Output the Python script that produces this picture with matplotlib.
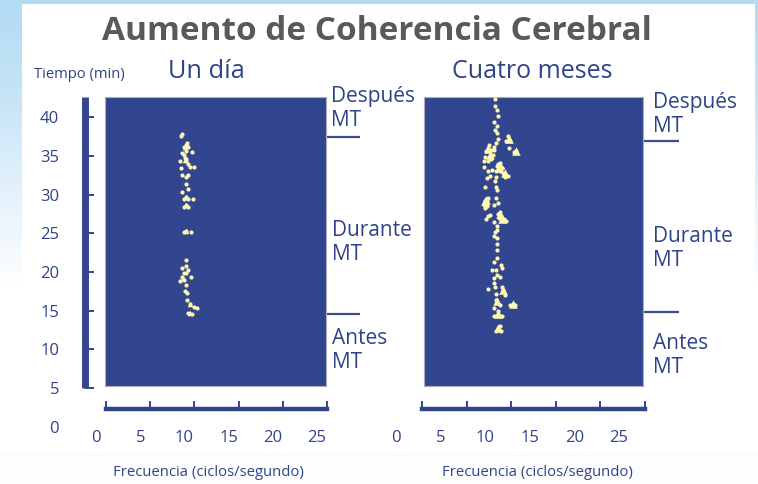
import numpy as np
import matplotlib
matplotlib.use("Agg")
import matplotlib.pyplot as plt
from matplotlib.colors import LinearSegmentedColormap
from matplotlib.patches import Rectangle
from matplotlib.transforms import ScaledTranslation

W, H = 758, 484
plt.rcParams['font.family'] = ['Open Sans', 'DejaVu Sans']

title = "Aumento de Coherencia Cerebral"
panel_titles = ["Un día", "Cuatro meses"]
x_label = "Frecuencia (ciclos/segundo)"
y_label = "Tiempo (min)"
x_ticks = [0, 5, 10, 15, 20, 25]
y_ticks = [0, 5, 10, 15, 20, 25, 30, 35, 40]
y_top = 42.6

left_freq = [8.6, 8.5, 9.1, 9.2, 8.8, 9.3, 8.6, 9.1, 9.7, 8.4, 8.9, 9.1, 9.3, 9.5, 9.9, 8.5, 8.8, 9.0,
             8.6, 9.1, 9.3, 9.1, 9.3, 8.6, 9.1, 8.8, 9.3, 9.8, 9.1, 8.8, 9.3,
             8.8, 9.1, 9.6,
             9.1, 9.1, 8.6, 9.3, 8.8, 9.1, 9.6, 8.6, 8.4, 8.8, 9.1, 8.9, 9.2, 9.2, 9.5, 9.9, 10.3, 9.3, 9.7]
left_time = [37.8, 37.6, 36.4, 36.7, 36.1, 36.1, 35.3, 35.6, 35.5, 34.3, 34.7, 34.3, 34.0, 33.5, 33.5, 33.4, 35.1, 34.6,
             32.5, 32.2, 32.5, 31.3, 30.7, 30.3, 29.7, 29.4, 29.4, 29.4, 28.6, 28.4, 28.4,
             25.1, 25.3, 25.1,
             21.5, 20.8, 20.5, 20.3, 19.8, 19.8, 19.4, 19.4, 18.8, 19.0, 18.3, 17.5, 17.3, 16.4, 15.9, 15.5, 15.4, 14.7, 14.6]
left_blob_freq = [8.9, 8.9, 9.1, 9.1, 9.5, 9.5, 8.75, 9.06]
left_blob_time = [36.1, 34.5, 29.7, 28.6, 15.9, 14.7, 19.2, 25.3]

right_freq = [8.2, 8.2, 8.4, 8.5, 8.0, 8.4, 8.2, 8.4, 8.5, 9.7, 9.4, 9.9, 9.7, 10.5, 10.3, 9.6,
              8.3, 8.0, 7.4, 7.7, 7.2, 7.0, 7.6, 7.9, 6.9, 7.4, 6.9, 8.7, 8.4, 8.9, 8.7, 9.1, 9.6, 7.4, 7.8, 7.3, 7.6, 8.3, 8.2,
              8.5, 8.3, 9.3, 9.0, 7.3, 7.1, 7.5, 8.0, 7.7,
              7.0, 8.3, 8.4, 7.0, 6.9, 7.4, 7.2, 8.3, 8.5, 8.0, 8.7, 8.5, 8.9, 9.4, 7.4, 7.6, 7.2, 8.1, 8.4, 8.2, 8.4, 8.1, 8.4, 8.4, 8.4,
              7.1, 7.0, 7.3, 8.8, 8.6, 9.2,
              8.4, 8.1, 8.8, 7.8, 8.3, 8.9, 8.4, 8.0, 8.7, 8.1, 7.4, 8.2, 8.9, 9.1, 9.3, 8.3, 8.3, 8.7, 8.1, 10.2, 9.9, 10.4,
              8.5, 8.3, 8.7, 8.1, 8.9, 8.5, 8.3, 8.8, 8.5, 8.7]
right_time = [42.4, 41.4, 40.9, 40.2, 39.4, 38.8, 38.4, 37.9, 37.2, 37.2, 36.9, 36.9, 36.0, 35.6, 35.5, 37.6,
              36.6, 36.2, 36.0, 35.8, 35.6, 34.9, 34.9, 35.1, 34.3, 34.3, 33.5, 34.1, 33.7, 33.4, 33.0, 32.8, 32.4, 33.0, 33.2, 32.1, 32.4, 32.2, 31.8,
              33.9, 33.1, 32.3, 33.4, 28.5, 29.1, 36.4, 35.7, 34.6,
              31.0, 31.0, 30.6, 29.1, 28.7, 29.5, 28.5, 29.5, 28.9, 28.7, 27.8, 27.5, 26.9, 26.6, 27.2, 27.4, 26.9, 26.5, 25.9, 25.2, 25.4, 24.7, 24.4, 23.6, 22.8,
              28.9, 28.3, 29.3, 27.2, 27.0, 26.8,
              21.8, 21.3, 20.9, 20.3, 20.3, 20.5, 19.6, 19.2, 19.3, 18.6, 17.8, 18.1, 18.1, 17.7, 17.0, 17.2, 16.4, 15.7, 15.3, 15.8, 15.7, 15.7,
              14.9, 14.3, 14.3, 14.3, 14.3, 12.7, 12.4, 12.4, 14.6, 13.0]
right_blob_freq = [7.4, 7.0, 7.2, 8.7, 8.65, 9.3, 8.7, 8.9, 8.5, 8.5, 9.1, 8.4, 9.7, 10.5, 10.15, 7.6]
right_blob_time = [35.9, 29.1, 29.3, 33.8, 33.4, 32.8, 27.5, 26.9, 14.6, 12.7, 17.7, 16.2, 37.2, 35.6, 15.8, 35.1]

labels_left = [("Después\nMT", 331, 108.5), ("Durante\nMT", 332, 242.5), ("Antes\nMT", 332, 350.5)]
labels_right = [("Después\nMT", 653, 114.5), ("Durante\nMT", 653, 248.5), ("Antes\nMT", 653, 355.5)]
dividers_left = [(325, 360, 136.5), (325, 360, 314)]
dividers_right = [(643, 679, 141), (643, 679, 312)]

BLUE = '#32458f'
TEXT = '#2f4389'
CREAM = '#fdf7b4'


def box(x0, y0, x1, y1):
    return [x0 / W, 1 - y1 / H, (x1 - x0) / W, (y1 - y0) / H]


def px(x, y):
    return x / W, 1 - y / H


fig = plt.figure(figsize=(W / 100, H / 100), dpi=100)

bg = fig.add_axes([0, 0, 1, 1], zorder=0)
bg.axis('off')
bg.set_xlim(0, W)
bg.set_ylim(H, 0)
cmap = LinearSegmentedColormap.from_list('sky', ['#b3dbf3', '#c6e4f6', '#e4f2fb', '#ffffff'])
bg.imshow(np.linspace(0, 1, 256)[:, None], aspect='auto', cmap=cmap, extent=(0, W, 290, 0))
bg.add_patch(Rectangle((0, 290), W, H - 290, color='white', lw=0))
bg.add_patch(Rectangle((22, 4), 733, 448, color='white', lw=0))
bg.add_patch(Rectangle((0, 452), W, 32, color='#fdfdfe', lw=0))
bg.set_xlim(0, W)
bg.set_ylim(H, 0)

for (x0, x1) in [(105, 326), (424, 643)]:
    p = fig.add_axes(box(x0, 97, x1, 386), zorder=1)
    p.set_facecolor(BLUE)
    p.set_xticks([])
    p.set_yticks([])
    for s in p.spines.values():
        s.set_color('#a9adbd')
        s.set_linewidth(0.8)


def data_axes(x0, x1, freq, time, blob_freq, blob_time, blob_size, xshift):
    ax = fig.add_axes(box(x0, 97, x1, 426.7), zorder=2)
    ax.patch.set_alpha(0)
    ax.set_xlim(0, 25)
    ax.set_ylim(0, y_top)
    ax.scatter(freq, time, s=9, marker='o', color=CREAM, linewidths=0, zorder=3)
    ax.scatter(blob_freq, blob_time, s=blob_size, marker='^', color=CREAM, linewidths=0, zorder=3)
    for s in ['top', 'right', 'left']:
        ax.spines[s].set_visible(False)
    ax.spines['bottom'].set_position(('data', 2.3))
    ax.spines['bottom'].set_linewidth(3.2)
    ax.spines['bottom'].set_color(BLUE)
    ax.set_xticks(x_ticks)
    ax.tick_params(axis='x', direction='in', length=6, width=1.4, color=BLUE,
                   labelcolor=TEXT, labelsize=12, pad=15)
    off = ScaledTranslation(xshift / 100, 0, fig.dpi_scale_trans)
    for t in ax.get_xticklabels():
        t.set_transform(t.get_transform() + off)
    ax.set_yticks([])
    return ax


ax1 = data_axes(106, 327, left_freq, left_time, left_blob_freq, left_blob_time, 16, -10)
ax2 = data_axes(422.3, 644.8, right_freq, right_time, right_blob_freq, right_blob_time, 38, -26)

ax1.spines['left'].set_visible(True)
ax1.spines['left'].set_position(('outward', 14.8))
ax1.spines['left'].set_bounds(5, y_top)
ax1.spines['left'].set_linewidth(5)
ax1.spines['left'].set_color(BLUE)
ax1.spines['left'].set_capstyle('butt')
ax1.set_yticks(y_ticks)
ax1.tick_params(axis='y', direction='in', length=6.2, width=1.4, color=BLUE,
                labelcolor=TEXT, labelsize=12, pad=19)
ax1.yaxis.get_major_ticks()[0].tick1line.set_visible(False)

fig.text(*px(377, 31), title, ha='center', va='center', fontsize=24, fontweight='bold', color='#58595b')
fig.text(*px(206, 72), panel_titles[0], ha='center', va='center', fontsize=18.3, color=TEXT)
fig.text(*px(532, 72), panel_titles[1], ha='center', va='center', fontsize=18, color=TEXT)
fig.text(*px(79.5, 75), y_label, ha='center', va='center', fontsize=10.6, color=TEXT)
fig.text(*px(208.5, 472), x_label, ha='center', va='center', fontsize=10.7, color=TEXT)
fig.text(*px(537.5, 472), x_label, ha='center', va='center', fontsize=10.7, color=TEXT)

for (s, x, y) in labels_left + labels_right:
    fig.text(*px(x, y), s, ha='left', va='center', fontsize=15, color=TEXT, linespacing=1.22)

for (x0, x1, y) in dividers_left + dividers_right:
    bg.plot([x0, x1], [y, y], color='#3b4d8f', lw=1.6, solid_capstyle='butt', zorder=5)

fig.savefig('out.png', dpi=100)
